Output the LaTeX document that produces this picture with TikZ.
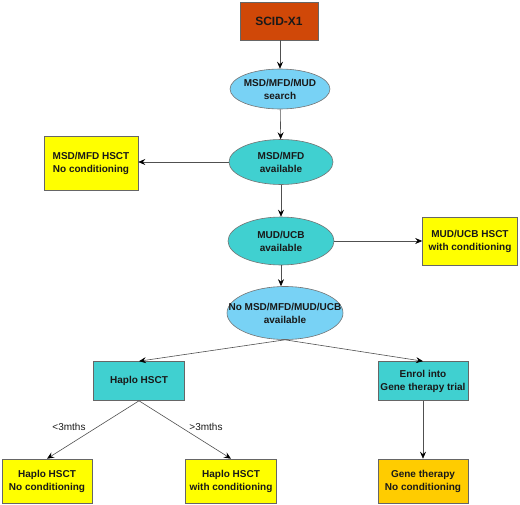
\documentclass[tikz,border=0pt]{standalone}
\usepackage{fontspec}
\setmainfont{Liberation Sans}
\usetikzlibrary{arrows.meta,shapes.geometric}
\definecolor{scid}{RGB}{208,72,8}
\definecolor{lblue}{RGB}{120,210,245}
\definecolor{teal2}{RGB}{64,208,208}
\definecolor{yel}{RGB}{255,255,0}
\definecolor{gold}{RGB}{255,204,0}
\definecolor{edge}{RGB}{80,80,80}
\tikzset{
  x=1pt,y=-1pt,
  every node/.style={font=\fontsize{10}{13}\selectfont\bfseries, text=black!90, align=center, inner sep=0pt},
  rbox/.style={draw=black!60, line width=0.6pt, rectangle, minimum width=#1},
  ell/.style={draw=black!55, line width=0.6pt, ellipse, inner xsep=-30pt, inner ysep=-6pt},
  conn/.style={draw=edge, line width=0.6pt, -{Stealth[length=7pt,width=6pt,inset=2.5pt,color=black]}},
  lbl/.style={font=\fontsize{10}{12}\selectfont, text=black!90}
}
\begin{document}
\begin{tikzpicture}
\useasboundingbox (0,0) rectangle (520,504);
\node[rbox=78, fill=scid, minimum height=38] (scid) at (279,21) {\fontsize{12}{14}\selectfont SCID-X1};
\node[ell, fill=lblue, minimum width=100, minimum height=40] (search) at (280,89) {MSD/MFD/MUD\\search};
\node[ell, fill=teal2, minimum width=104, minimum height=45] (msd) at (281,162) {MSD/MFD\\available};
\node[rbox=94, fill=yel, minimum height=54] (msdh) at (91,163) {MSD/MFD HSCT\\No conditioning};
\node[ell, fill=teal2, minimum width=106, minimum height=48] (mud) at (281,241) {MUD/UCB\\available};
\node[rbox=95, fill=yel, minimum height=48] (mudh) at (470,241) {MUD/UCB HSCT\\with conditioning};
\node[ell, fill=lblue, minimum width=116, minimum height=53] (no) at (285,313) {No MSD/MFD/MUD/UCB\\available};
\node[rbox=91, fill=teal2, minimum height=39] (haplo) at (139,381) {Haplo HSCT};
\node[rbox=90, fill=teal2, minimum height=39] (enrol) at (423,381) {Enrol into\\Gene therapy trial};
\node[rbox=90, fill=yel, minimum height=44] (h1) at (47,481) {Haplo HSCT\\No conditioning};
\node[rbox=91, fill=yel, minimum height=44] (h2) at (231,481) {Haplo HSCT\\with conditioning};
\node[rbox=90, fill=gold, minimum height=44] (gene) at (423,481) {Gene therapy\\No conditioning};
\draw[conn] (scid.south -| search) -- (search);
\draw[conn] (search) -- (msd);
\draw[conn] (msd) -- (msdh.east |- msd);
\draw[conn] (msd) -- (mud);
\draw[conn] (mud) -- (mudh);
\draw[conn] (mud.south) -- (mud.south |- no.north);
\draw[conn] (no.south) -- (haplo.north);
\draw[conn] (no.south) -- (enrol.north);
\draw[conn] (haplo.south) -- (h1.north);
\draw[conn] (haplo.south) -- (h2.north);
\draw[conn] (enrol) -- (gene);
\node[lbl] (l1) at (69,427) {<3mths};
\node[lbl] (l2) at (206,427) {>3mths};
\end{tikzpicture}
\end{document}
